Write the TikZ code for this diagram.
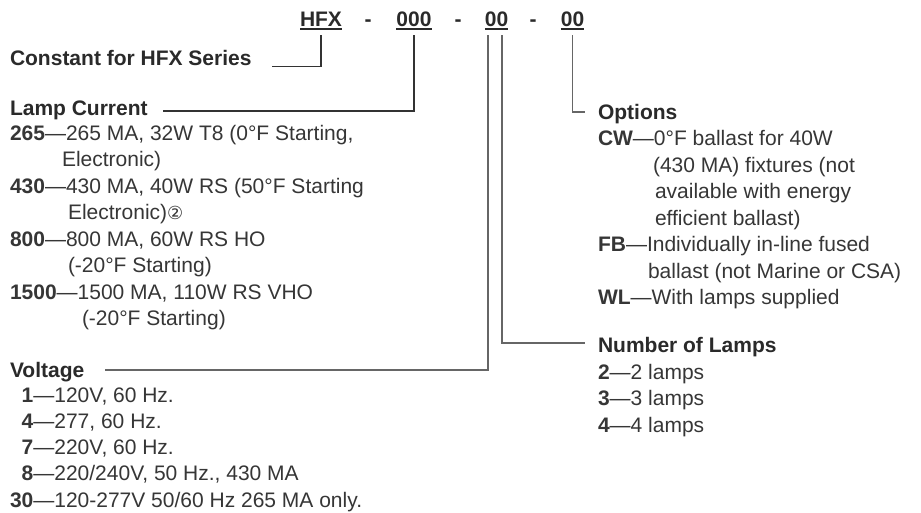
\documentclass[tikz,border=0pt]{standalone}
\usepackage{fontspec}
\setmainfont{Liberation Sans}
\newfontfamily\dejavu{DejaVu Sans}
\definecolor{txt}{HTML}{2A2A2A}
\definecolor{bodytxt}{HTML}{363636}
\definecolor{lnA}{HTML}{333333}
\definecolor{lnB}{HTML}{666666}
\begin{document}
\begin{tikzpicture}[x=1pt,y=-1pt,
  every node/.style={inner sep=0pt, outer sep=0pt, text=bodytxt, font=\fontsize{21}{25}\selectfont},
  hd/.style={anchor=base west, text=txt, font=\fontsize{21}{25}\selectfont\bfseries},
  code/.style={anchor=base, text=txt, font=\fontsize{21}{25}\selectfont\bfseries},
  row/.style={anchor=base west},
  uline/.style={draw=txt, line width=1.5pt},
  leadA/.style={draw=lnA, line width=1.2pt},
  leadB/.style={draw=lnB, line width=1.3pt}]
\fill[white] (0,0) rectangle (921,512);
\useasboundingbox (0,0) rectangle (921,512);

% code line
\node[code] (hfx) at (321,26) {HFX};
\node[code] (dash1) at (368,26) {-};
\node[code] (num3) at (414,26) {000};
\node[code] (dash2) at (458,26) {-};
\node[code] (numA) at (496.5,26) {00};
\node[code] (dash3) at (533,26) {-};
\node[code] (numB) at (572.5,26) {00};
\foreach \n in {hfx,num3,numA,numB}
  \draw[uline] ([yshift=-3pt]\n.base west) -- ([yshift=-3pt]\n.base east);

% titles
\node[hd] (constant) at (10,65.5) {Constant for HFX Series};
\node[hd] (lampcur) at (10,115) {Lamp Current};
\node[hd] (voltage) at (10,377) {Voltage};
\node[hd] (options) at (598,119) {Options};
\node[hd] (numlamps) at (598,352) {Number of Lamps};

% lamp current list
\node[row] (lc1) at (10,140) {\textbf{265}—265 MA, 32W T8 (0°F Starting,};
\node[row] (lc1b) at (62,166.5) {Electronic)};
\node[row] (lc2) at (10,193) {\textbf{430}—430 MA, 40W RS (50°F Starting};
\node[row] (lc2b) at (68,219.5) {Electronic){\dejavu\fontsize{18}{18}\selectfont ②}};
\node[row] (lc3) at (10,246) {\textbf{800}—800 MA, 60W RS HO};
\node[row] (lc3b) at (68,272.5) {(-20°F Starting)};
\node[row] (lc4) at (10,299) {\textbf{1500}—1500 MA, 110W RS VHO};
\node[row] (lc4b) at (82,325.5) {(-20°F Starting)};

% voltage list
\node[row] (v1) at (21.7,402) {\textbf{1}—120V, 60 Hz.};
\node[row] (v4) at (21.7,428.3) {\textbf{4}—277, 60 Hz.};
\node[row] (v7) at (21.7,454.6) {\textbf{7}—220V, 60 Hz.};
\node[row] (v8) at (21.7,480.9) {\textbf{8}—220/240V, 50 Hz., 430 MA};
\node[row] (v30) at (10,507.2) {\textbf{30}—120-277V 50/60 Hz 265 MA only.};

% options list
\node[row] (o1) at (598,145.5) {\textbf{CW}—0°F ballast for 40W};
\node[row] (o1b) at (653,172) {(430 MA) fixtures (not};
\node[row] (o1c) at (655,198.5) {available with energy};
\node[row] (o1d) at (655,225) {efficient ballast)};
\node[row] (o2) at (598,251.5) {\textbf{FB}—Individually in-line fused};
\node[row] (o2b) at (648,278) {ballast (not Marine or CSA)};
\node[row] (o3) at (598,304.5) {\textbf{WL}—With lamps supplied};

% number of lamps list
\node[row] (n2) at (598,379) {\textbf{2}—2 lamps};
\node[row] (n3) at (598,405.5) {\textbf{3}—3 lamps};
\node[row] (n4) at (598,432) {\textbf{4}—4 lamps};

% connectors
\draw[leadA] ([yshift=-9pt]hfx.base) |- ([xshift=20pt,yshift=-1pt]constant.base east);
\draw[leadA] ([yshift=-9pt]num3.base) |- ([xshift=15pt,yshift=4pt]lampcur.base east);
\draw[leadB] ([xshift=-8.5pt,yshift=-9pt]numA.base) |- ([xshift=21pt,yshift=7pt]voltage.base east);
\draw[leadB] ([xshift=5.5pt,yshift=-9pt]numA.base) |- ([xshift=-13pt,yshift=9pt]numlamps.base west);
\draw[leadB] ([yshift=-9pt]numB.base) |- ([xshift=-13pt,yshift=7pt]options.base west);
\end{tikzpicture}
\end{document}
